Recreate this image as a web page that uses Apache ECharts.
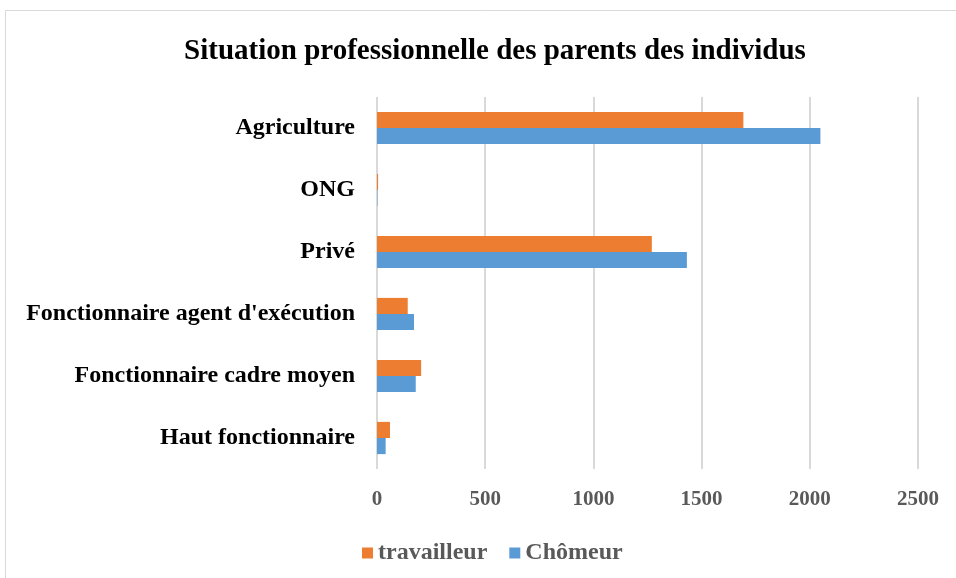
<!DOCTYPE html>
<html>
<head>
    <meta charset="UTF-8">
    <title>Situation professionnelle des parents des individus</title>
    <script type="text/javascript" src="https://cdn.jsdelivr.net/npm/echarts@6/dist/echarts.min.js"></script>
    <style>
        *{margin:0;padding:0}
        html,body{width:100%;height:100%;background:#fff}
        #main{width:956px;height:578px}
    </style>
</head>
<body>
<div id="main"></div>
<script type="text/javascript">
    // catégories, de bas en haut
    var categories = ['Haut fonctionnaire', 'Fonctionnaire cadre moyen', "Fonctionnaire agent d'exécution", 'Privé', 'ONG', 'Agriculture'];
    var travailleur = [60, 204, 142, 1270, 5, 1693];
    var chomeur = [40, 179, 171, 1432, 2, 2049];
    var xTicks = [0, 500, 1000, 1500, 2000, 2500];

    var serif = '"Liberation Serif", "DejaVu Serif", serif';

    var option = {
        animation: false,
        title: {
            text: 'Situation professionnelle des parents des individus',
            left: 490,
            textAlign: 'center',
            top: 32,
            textStyle: {fontFamily: serif, fontSize: 29, fontWeight: 'bold', color: '#000'}
        },
        legend: {
            data: ['travailleur', 'Chômeur'],
            left: 357,
            top: 536,
            itemWidth: 11,
            itemHeight: 11,
            itemGap: 22,
            icon: 'rect',
            textStyle: {fontFamily: serif, fontSize: 24, fontWeight: 'bold', color: '#595959'}
        },
        grid: {left: 377, right: 38, top: 97, bottom: 109, containLabel: false},
        xAxis: {
            type: 'value',
            min: xTicks[0],
            max: xTicks[xTicks.length - 1],
            interval: 500,
            axisLine: {show: false},
            axisTick: {show: false},
            splitLine: {lineStyle: {color: '#d9d9d9', width: 2}},
            axisLabel: {
                margin: 20,
                formatter: function (v) { return String(v); },
                fontFamily: serif, fontSize: 21, fontWeight: 'bold', color: '#595959'
            }
        },
        yAxis: {
            type: 'category',
            data: categories,
            axisLine: {show: false},
            axisTick: {show: false},
            axisLabel: {
                margin: 22,
                padding: [4, 0, 0, 0],
                fontFamily: serif, fontSize: 24, fontWeight: 'bold', color: '#000'
            }
        },
        graphic: [{
            type: 'rect',
            shape: {x: 5.5, y: 10.5, width: 960, height: 580},
            style: {fill: 'none', stroke: '#d9d9d9', lineWidth: 1},
            silent: true
        }],
        series: [
            {
                name: 'travailleur',
                type: 'bar',
                data: travailleur,
                barGap: '0%',
                barCategoryGap: '48%',
                itemStyle: {color: '#ed7d31'}
            },
            {
                name: 'Chômeur',
                type: 'bar',
                data: chomeur,
                itemStyle: {color: '#5b9bd5'}
            }
        ]
    };

    var myChart = echarts.init(document.getElementById('main'));
    myChart.setOption(option);
</script>
</body>
</html>
